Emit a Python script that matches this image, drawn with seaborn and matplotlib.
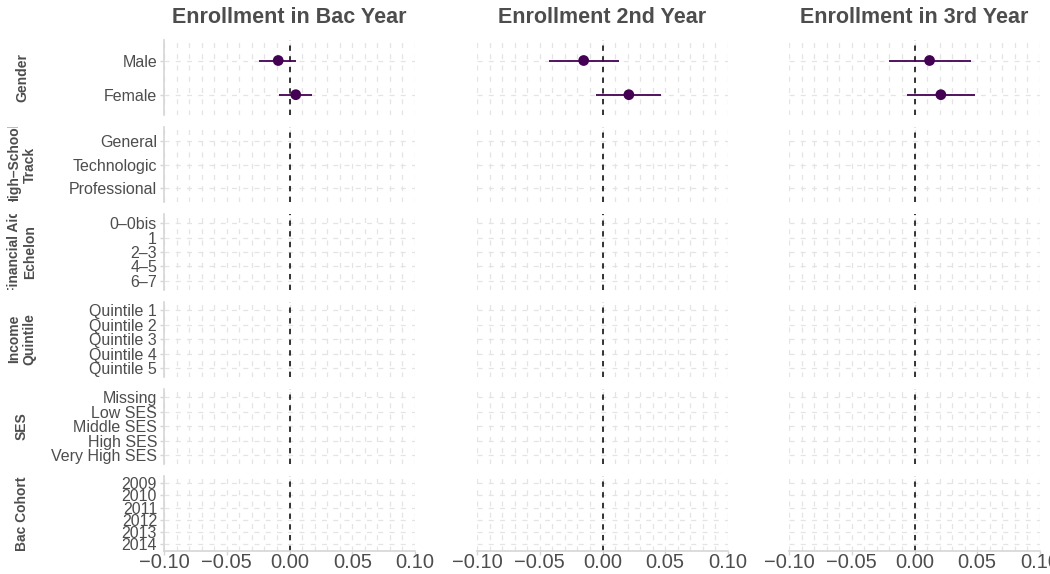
import numpy as np
import pandas as pd
import matplotlib
matplotlib.use("Agg")
import matplotlib.pyplot as plt
from matplotlib.ticker import MultipleLocator, FixedLocator
import seaborn as sns

# ---- data -------------------------------------------------------------
outcomes = ["Enrollment in Bac Year", "Enrollment 2nd Year", "Enrollment in 3rd Year"]

groups = ["Gender", "High–School\nTrack", "Financial Aid\nEchelon",
          "Income\nQuintile", "SES", "Bac Cohort"]

gender_levels = ["Male", "Female"]
track_levels = ["General", "Technologic", "Professional"]
aid_levels = ["0–0bis", "1", "2–3", "4–5", "6–7"]
income_levels = ["Quintile 1", "Quintile 2", "Quintile 3", "Quintile 4", "Quintile 5"]
ses_levels = ["Missing", "Low SES", "Middle SES", "High SES", "Very High SES"]
cohort_levels = ["2009", "2010", "2011", "2012", "2013", "2014"]

group_levels = [gender_levels, track_levels, aid_levels,
                income_levels, ses_levels, cohort_levels]

# gender effects per outcome (point estimate, lower and upper 95% bounds)
male_est = [-0.009, -0.015, 0.012]
male_lo = [-0.024, -0.043, -0.020]
male_hi = [0.005, 0.013, 0.045]
female_est = [0.005, 0.021, 0.021]
female_lo = [-0.008, -0.005, -0.006]
female_hi = [0.018, 0.047, 0.048]

x_ticks = [-0.10, -0.05, 0.0, 0.05, 0.10]

rows = []
for k, outcome in enumerate(outcomes):
    rows.append(dict(outcome=outcome, group="Gender", level="Male",
                     est=male_est[k], lo=male_lo[k], hi=male_hi[k]))
    rows.append(dict(outcome=outcome, group="Gender", level="Female",
                     est=female_est[k], lo=female_lo[k], hi=female_hi[k]))
df = pd.DataFrame(rows)

# ---- style -------------------------------------------------------------
sns.set_theme(style="white")
plt.rcParams["font.family"] = ["Liberation Sans", "DejaVu Sans"]

TEXT = "#4d4d4d"
GRID = "#e4e4e4"
AXIS = "#d6d6d6"
POINT = "#440154"

W, H = 1050, 574
fig = plt.figure(figsize=(W / 100, H / 100), dpi=100)

col_left = [164, 477, 789]
col_w = 251
row_top0 = 40
row_h = 75.2
row_gap = 12

xlim = (-0.10, 0.10)
for r, (grp, levels) in enumerate(zip(groups, group_levels)):
    top = row_top0 + r * (row_h + row_gap)
    n = len(levels)
    for c, outcome in enumerate(outcomes):
        ax = fig.add_axes([col_left[c] / W, 1 - (top + row_h) / H, col_w / W, row_h / H])
        ax.set_facecolor("white")
        ax.set_xlim(*xlim)
        ax.set_ylim(n - 1 + 0.6, -0.6)

        # grid: every 0.01 on x, every category on y
        ax.xaxis.set_major_locator(FixedLocator(x_ticks))
        ax.xaxis.set_minor_locator(MultipleLocator(0.01))
        ax.yaxis.set_major_locator(FixedLocator(range(n)))
        ax.grid(True, which="both", axis="x", color=GRID, lw=0.9,
                linestyle=(0, (4, 5)))
        ax.grid(True, which="major", axis="y", color=GRID, lw=0.9,
                linestyle=(0, (4, 5)))
        ax.set_axisbelow(True)

        sub = df[(df.outcome == outcome) & (df.group == grp)].copy()
        if len(sub):
            sub["pos"] = [levels.index(v) for v in sub.level]
            ax.hlines(sub["pos"], sub["lo"], sub["hi"], color=POINT, lw=1.3, zorder=3)
            sns.scatterplot(data=sub, x="est", y="pos", ax=ax, color=POINT,
                            s=60, edgecolor="none", legend=False, zorder=4)

        ax.axvline(0, color="black", lw=1.1, linestyle=(0, (3.5, 3.5)), zorder=2)

        for s in ["top", "right"]:
            ax.spines[s].set_visible(False)
        ax.spines["left"].set_visible(c == 0)
        ax.spines["bottom"].set_visible(r == len(groups) - 1)
        for s in ["left", "bottom"]:
            ax.spines[s].set_color(AXIS)
            ax.spines[s].set_linewidth(1.2)

        ax.set_xlabel("")
        ax.set_ylabel("")
        ax.tick_params(axis="x", which="minor", length=0)
        if r == len(groups) - 1:
            ax.tick_params(axis="x", which="major", length=3, width=1.0,
                           color=AXIS, labelsize=14.5, labelcolor=TEXT, pad=-1.5,
                           bottom=True)
            ax.set_xticklabels([f"{v:.2f}".replace("-", "\u2212") for v in x_ticks])
        else:
            ax.tick_params(axis="x", which="major", length=0, labelbottom=False)

        if c == 0:
            ax.set_yticklabels(levels)
            ax.tick_params(axis="y", length=3, width=1.0, color=AXIS,
                           labelsize=11.5, labelcolor=TEXT, pad=2, left=True)
        else:
            ax.tick_params(axis="y", length=0, labelleft=False)

        if r == 0:
            ax.set_title(outcome, fontsize=15.5, fontweight="bold", color=TEXT, pad=12)

    # row strip label on the far left, clipped to the row height
    sax = fig.add_axes([2 / W, 1 - (top + row_h) / H, 40 / W, row_h / H])
    sax.set_axis_off()
    sax.text(0.5, 0.5, grp, rotation=90, ha="center", va="center",
             multialignment="center", fontsize=10, fontweight="bold",
             color=TEXT, transform=sax.transAxes, clip_on=True, linespacing=1.15)

fig.savefig("out.png", dpi=100, facecolor="white")
